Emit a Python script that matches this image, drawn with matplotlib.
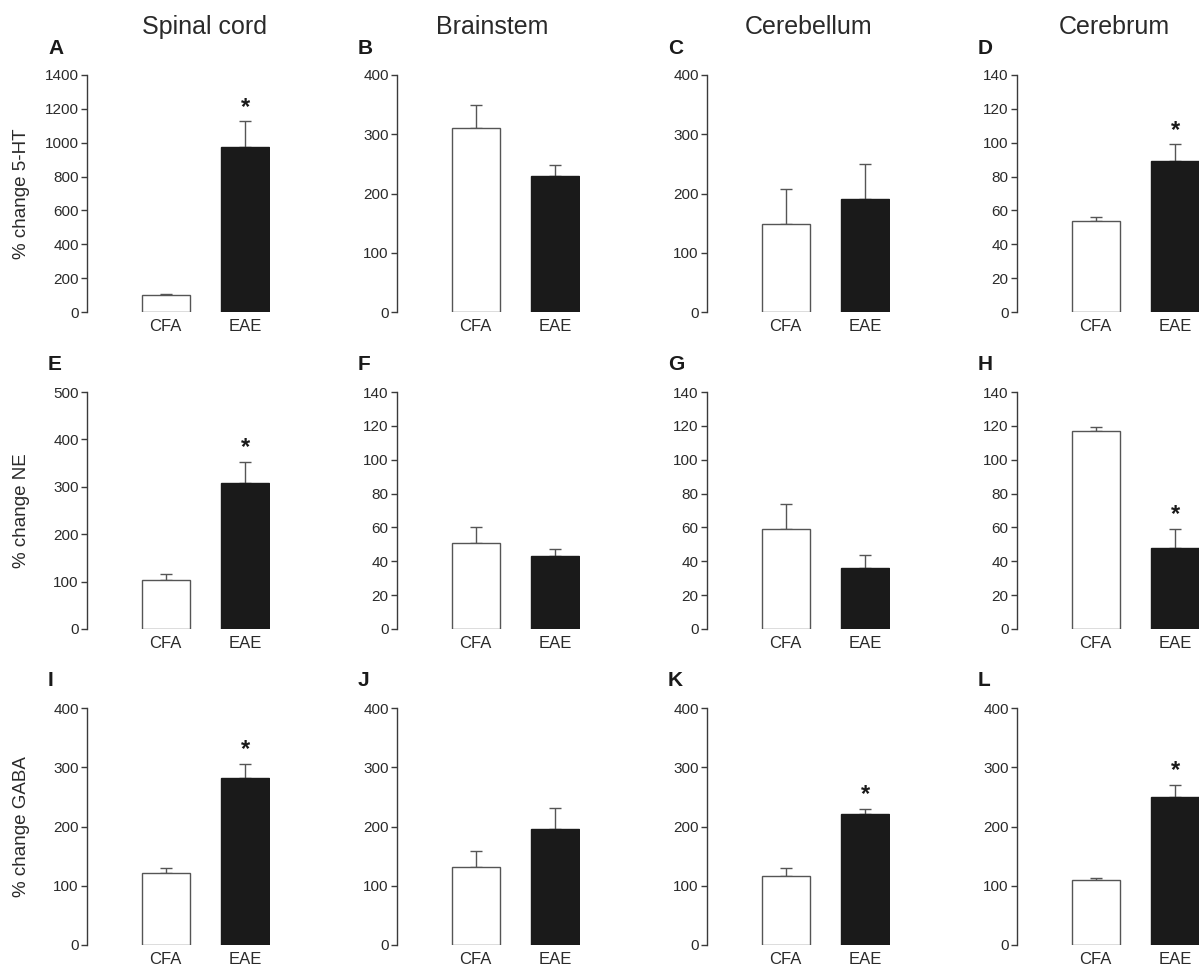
"""Paineis 3x4: % de mudanca de 5-HT, NE e GABA por regiao (CFA vs EAE)."""
import matplotlib

matplotlib.use("Agg")
import matplotlib.pyplot as plt

INK = "#1a1a1a"
AXIS = "#3a3a3a"
TXT = "#2a2a2a"
plt.rcParams["font.family"] = ["Liberation Sans", "DejaVu Sans"]

GROUPS = ["CFA", "EAE"]
REGIONS = ["Spinal cord", "Brainstem", "Cerebellum", "Cerebrum"]
YLABELS = ["% change 5-HT", "% change NE", "% change GABA"]
LETTERS = ["A", "B", "C", "D", "E", "F", "G", "H", "I", "J", "K", "L"]

# media e erro (so para cima) por painel, ordem A..L
MEANS = [
    [100, 976], [310, 230], [148, 190], [54, 89],
    [104, 309], [51, 43], [59, 36], [117, 48],
    [122, 282], [131, 195], [117, 221], [110, 250],
]
ERRS = [
    [5, 150], [40, 18], [59, 60], [2, 10],
    [12, 43], [9, 4], [15, 8], [2.6, 11],
    [8, 23], [27, 37], [13, 8.5], [3, 20],
]
SIG = [True, False, False, True,
       True, False, False, True,
       True, False, True, True]
YMAX = [1400, 400, 400, 140, 500, 140, 140, 140, 400, 400, 400, 400]
YSTEP = [200, 100, 100, 20, 100, 20, 20, 20, 100, 100, 100, 100]

W, H = 1199, 969
COL_LEFT = [87, 397, 707, 1017]
AX_W = 183
ROW_TOP = [75, 392, 708]
AX_H = 237
TITLE_X = [205, 492, 809, 1114]

fig = plt.figure(figsize=(W / 100, H / 100), dpi=100, facecolor="white")

for i in range(12):
    r, c = divmod(i, 4)
    ax = fig.add_axes([COL_LEFT[c] / W, 1 - (ROW_TOP[r] + AX_H) / H, AX_W / W, AX_H / H])
    x = [0, 1]
    ax.bar(x, MEANS[i], width=0.6, color=["white", INK], edgecolor=["#555555", INK],
           linewidth=1.0, zorder=2)
    ax.errorbar(x, MEANS[i], yerr=[[0, 0], ERRS[i]], fmt="none", ecolor="#555555",
                elinewidth=1.0, capsize=4, capthick=1.0, zorder=1)
    if SIG[i]:
        ax.annotate("*", (1, MEANS[i][1] + ERRS[i][1]), xytext=(0, 2),
                    textcoords="offset points", ha="center", va="bottom",
                    fontsize=17, fontweight="bold", color=INK)
    ax.set_xlim(-0.99, 1.31)
    ax.set_ylim(0, YMAX[i])
    ax.set_yticks(range(0, YMAX[i] + 1, YSTEP[i]))
    ax.set_xticks(x)
    ax.set_xticklabels(GROUPS)
    for s in ("top", "right", "bottom"):
        ax.spines[s].set_visible(False)
    ax.spines["left"].set_color(AXIS)
    ax.spines["left"].set_linewidth(1.0)
    ax.tick_params(axis="y", direction="out", length=4, width=1.0, color=AXIS,
                   labelsize=11, labelcolor=TXT, pad=2)
    ax.tick_params(axis="x", length=0, labelsize=12, labelcolor=TXT, pad=5)
    ax.patch.set_alpha(0)
    if c == 0:
        ax.set_ylabel(YLABELS[r], fontsize=13.5, color=TXT, va="center")
        ax.yaxis.set_label_coords(-65 / AX_W, 0.5)
    # letra do painel
    fig.text((COL_LEFT[c] - 39) / W, 1 - (ROW_TOP[r] - 27) / H, LETTERS[i],
             fontsize=15, fontweight="bold", color=INK, ha="left", va="center")

for c, name in enumerate(REGIONS):
    fig.text(TITLE_X[c] / W, 1 - 27 / H, name, fontsize=18, color=TXT,
             ha="center", va="center")

fig.savefig("out.png", dpi=100, facecolor="white")
